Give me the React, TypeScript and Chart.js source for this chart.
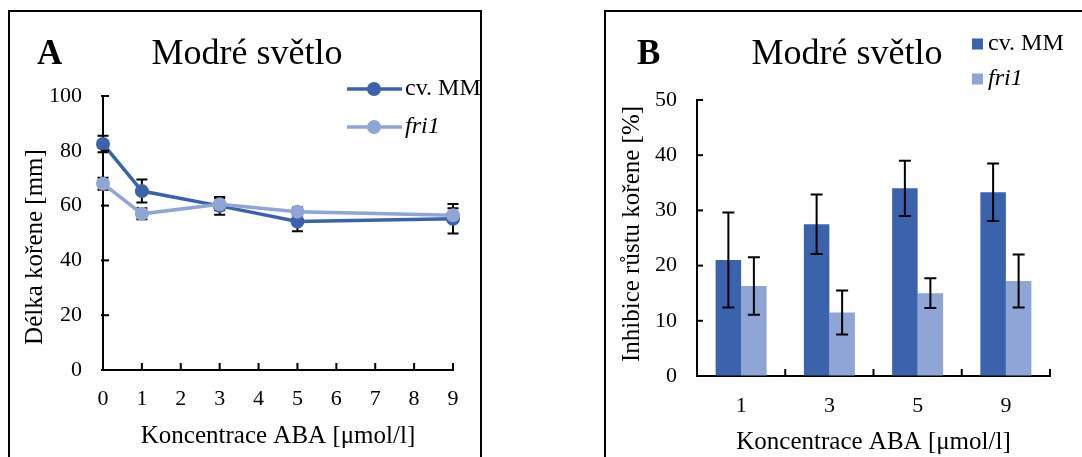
import React, { useEffect, useRef } from "react";
import { Chart, registerables } from "chart.js";

Chart.register(...registerables);

const FONT = "'Liberation Serif', 'Times New Roman', Times, serif";
const DARK = "#3B63AD";
const LIGHT = "#8FA5D6";
const INK = "#000000";

// ---------- Panel A data (line chart) ----------
const panelATitle = "Modré světlo";
const panelALetter = "A";
const concentrationsA = [0, 1, 3, 5, 9];
const mmLength = [82.5, 65.3, 59.9, 54.2, 55.2];
const mmLengthErr = [3.0, 4.2, 3.2, 3.6, 5.4];
const fri1Length = [68.0, 57.0, 60.5, 57.8, 56.5];
const fri1LengthErr = [2.2, 2.0, 2.2, 1.5, 2.5];
const xTitleA = "Koncentrace ABA [μmol/l]";
const yTitleA = "Délka kořene [mm]";

// ---------- Panel B data (bar chart) ----------
const panelBTitle = "Modré světlo";
const panelBLetter = "B";
const categoriesB = ["1", "3", "5", "9"];
const mmInhibition = [21.0, 27.5, 34.0, 33.3];
const mmInhibitionErr = [8.6, 5.4, 5.0, 5.2];
const fri1Inhibition = [16.3, 11.5, 15.0, 17.2];
const fri1InhibitionErr = [5.2, 4.0, 2.7, 4.8];
const xTitleB = "Koncentrace ABA [μmol/l]";
const yTitleB = "Inhibice růstu kořene [%]";

const seriesNames = ["cv. MM", "fri1"];

function valueOf(v: any): number {
  return typeof v === "object" && v !== null ? v.y : v;
}

function makeErrorBars(stage: string, capHalf: number, width: number) {
  return {
    id: "errorBars_" + stage,
    [stage]: (chart: any) => {
      const ctx = chart.ctx;
      const yScale = chart.scales.y;
      ctx.save();
      ctx.strokeStyle = INK;
      ctx.lineWidth = width;
      chart.data.datasets.forEach((ds: any, di: number) => {
        const meta = chart.getDatasetMeta(di);
        const errs: number[] = ds.errors || [];
        meta.data.forEach((el: any, i: number) => {
          const v = valueOf(ds.data[i]);
          const e = errs[i] || 0;
          const x = el.x;
          const yT = yScale.getPixelForValue(v + e);
          const yB = yScale.getPixelForValue(v - e);
          ctx.beginPath();
          ctx.moveTo(x, yT);
          ctx.lineTo(x, yB);
          ctx.moveTo(x - capHalf, yT);
          ctx.lineTo(x + capHalf, yT);
          ctx.moveTo(x - capHalf, yB);
          ctx.lineTo(x + capHalf, yB);
          ctx.stroke();
        });
      });
      ctx.restore();
    },
  };
}

function text(
  ctx: CanvasRenderingContext2D,
  s: string,
  x: number,
  y: number,
  font: string,
  align: CanvasTextAlign = "left",
  rotate = 0
) {
  ctx.save();
  ctx.fillStyle = INK;
  ctx.font = font;
  ctx.textAlign = align;
  ctx.textBaseline = "middle";
  ctx.translate(x, y);
  if (rotate) ctx.rotate(rotate);
  ctx.fillText(s, 0, 0);
  ctx.restore();
}

const decorA = {
  id: "decorA",
  afterDraw: (chart: any) => {
    const ctx = chart.ctx as CanvasRenderingContext2D;
    const area = chart.chartArea;
    ctx.save();
    ctx.strokeStyle = INK;
    ctx.lineWidth = 2;
    ctx.strokeRect(9, 11, 472, 520);
    const xs = chart.scales.x;
    xs.ticks.forEach((t: any) => {
      const px = xs.getPixelForValue(t.value);
      ctx.beginPath();
      ctx.moveTo(px, area.bottom);
      ctx.lineTo(px, area.bottom - 7);
      ctx.stroke();
    });
    const ys = chart.scales.y;
    ys.ticks.forEach((t: any) => {
      const py = ys.getPixelForValue(t.value);
      ctx.beginPath();
      ctx.moveTo(area.left - 2, py);
      ctx.lineTo(area.left + 6, py);
      ctx.stroke();
    });
    ctx.restore();

    text(ctx, panelALetter, 37, 55, `bold 35px ${FONT}`);
    text(ctx, panelATitle, 247, 55, `36px ${FONT}`, "center");
    text(ctx, xTitleA, (area.left + area.right) / 2, 436, `25px ${FONT}`, "center");
    text(ctx, yTitleA, 35, 247, `25px ${FONT}`, "center", -Math.PI / 2);

    const colors = [DARK, LIGHT];
    const ys2 = [89, 127];
    colors.forEach((c, i) => {
      ctx.save();
      ctx.strokeStyle = c;
      ctx.lineWidth = 3.5;
      ctx.beginPath();
      ctx.moveTo(347, ys2[i]);
      ctx.lineTo(402, ys2[i]);
      ctx.stroke();
      ctx.fillStyle = c;
      ctx.beginPath();
      ctx.arc(374, ys2[i], 7, 0, Math.PI * 2);
      ctx.fill();
      ctx.restore();
      text(ctx, seriesNames[i], 405, ys2[i], `${i === 1 ? "italic " : ""}24px ${FONT}`);
    });
  },
};

const decorB = {
  id: "decorB",
  afterDraw: (chart: any) => {
    const ctx = chart.ctx as CanvasRenderingContext2D;
    const area = chart.chartArea;
    ctx.save();
    ctx.strokeStyle = INK;
    ctx.lineWidth = 2;
    ctx.strokeRect(64, 11, 600, 520);
    const n = chart.data.labels.length;
    const step = (area.right - area.left) / n;
    for (let i = 0; i <= n; i++) {
      const px = area.left + i * step;
      ctx.beginPath();
      ctx.moveTo(px, area.bottom);
      ctx.lineTo(px, area.bottom - 7);
      ctx.stroke();
    }
    const ys = chart.scales.y;
    ys.ticks.forEach((t: any) => {
      const py = ys.getPixelForValue(t.value);
      ctx.beginPath();
      ctx.moveTo(area.left, py);
      ctx.lineTo(area.left + 6, py);
      ctx.stroke();
    });
    ctx.restore();

    text(ctx, panelBLetter, 96, 55, `bold 35px ${FONT}`);
    text(ctx, panelBTitle, 306, 55, `36px ${FONT}`, "center");
    text(ctx, xTitleB, (area.left + area.right) / 2, 442, `25px ${FONT}`, "center");
    text(ctx, yTitleB, 91, 234, `25px ${FONT}`, "center", -Math.PI / 2);

    const colors = [DARK, LIGHT];
    const ys2 = [44, 79];
    colors.forEach((c, i) => {
      ctx.save();
      ctx.fillStyle = c;
      ctx.fillRect(431, ys2[i] - 5.5, 11, 11);
      ctx.restore();
      text(ctx, seriesNames[i], 447, ys2[i], `${i === 1 ? "italic " : ""}24px ${FONT}`);
    });
  },
};

const tickFont = { family: FONT, size: 22 };

export default function App() {
  const refA = useRef<HTMLCanvasElement>(null);
  const refB = useRef<HTMLCanvasElement>(null);

  useEffect(() => {
    const chartA = new Chart(refA.current!, {
      type: "line",
      data: {
        datasets: [
          {
            label: seriesNames[0],
            data: concentrationsA.map((x, i) => ({ x, y: mmLength[i] })),
            errors: mmLengthErr,
            borderColor: DARK,
            backgroundColor: DARK,
            borderWidth: 3.5,
            pointRadius: 7,
            pointBorderWidth: 0,
            pointBackgroundColor: DARK,
            clip: false,
            order: 1,
          } as any,
          {
            label: seriesNames[1],
            data: concentrationsA.map((x, i) => ({ x, y: fri1Length[i] })),
            errors: fri1LengthErr,
            borderColor: LIGHT,
            backgroundColor: LIGHT,
            borderWidth: 3.5,
            pointRadius: 7,
            pointBorderWidth: 0,
            pointBackgroundColor: LIGHT,
            clip: false,
            order: 0,
          } as any,
        ],
      },
      options: {
        responsive: false,
        animation: false,
        layout: { padding: { top: 96, right: 88, left: 0, bottom: 0 } },
        plugins: { legend: { display: false }, tooltip: { enabled: false }, title: { display: false } },
        scales: {
          x: {
            type: "linear",
            min: 0,
            max: 9,
            ticks: { stepSize: 1, color: INK, font: tickFont, padding: 16, maxRotation: 0 },
            grid: { display: true, drawOnChartArea: false, drawTicks: false },
            border: { display: true, color: INK, width: 2 },
            afterFit: (s: any) => {
              s.height = 87;
            },
          },
          y: {
            min: 0,
            max: 100,
            ticks: { stepSize: 20, color: INK, font: tickFont, padding: 21 },
            grid: { display: true, drawOnChartArea: false, drawTicks: false },
            border: { display: true, color: INK, width: 2 },
            afterFit: (s: any) => {
              s.width = 103;
            },
          },
        },
      } as any,
      plugins: [makeErrorBars("beforeDatasetsDraw", 5.5, 2), decorA],
    });

    const chartB = new Chart(refB.current!, {
      type: "bar",
      data: {
        labels: categoriesB,
        datasets: [
          {
            label: seriesNames[0],
            data: mmInhibition,
            errors: mmInhibitionErr,
            backgroundColor: DARK,
            borderWidth: 0,
            categoryPercentage: 0.578,
            barPercentage: 1,
          } as any,
          {
            label: seriesNames[1],
            data: fri1Inhibition,
            errors: fri1InhibitionErr,
            backgroundColor: LIGHT,
            borderWidth: 0,
            categoryPercentage: 0.578,
            barPercentage: 1,
          } as any,
        ],
      },
      options: {
        responsive: false,
        animation: false,
        layout: { padding: { top: 100, right: 32, left: 0, bottom: 0 } },
        plugins: { legend: { display: false }, tooltip: { enabled: false }, title: { display: false } },
        scales: {
          x: {
            ticks: { color: INK, font: tickFont, padding: 17, maxRotation: 0 },
            grid: { display: true, drawOnChartArea: false, drawTicks: false },
            border: { display: true, color: INK, width: 2 },
            afterFit: (s: any) => {
              s.height = 81;
            },
          },
          y: {
            min: 0,
            max: 50,
            ticks: { stepSize: 10, color: INK, font: tickFont, padding: 20 },
            grid: { display: true, drawOnChartArea: false, drawTicks: false },
            border: { display: true, color: INK, width: 2 },
            afterFit: (s: any) => {
              s.width = 156;
            },
          },
        },
      } as any,
      plugins: [makeErrorBars("afterDatasetsDraw", 6, 2), decorB],
    });

    return () => {
      chartA.destroy();
      chartB.destroy();
    };
  }, []);

  return (
    <div
      style={{
        position: "fixed",
        left: 0,
        top: 0,
        width: 1082,
        height: 457,
        background: "#fff",
        overflow: "hidden",
      }}
    >
      <canvas
        ref={refA}
        width={541}
        height={457}
        style={{ position: "absolute", left: 0, top: 0, width: 541, height: 457 }}
      />
      <canvas
        ref={refB}
        width={541}
        height={457}
        style={{ position: "absolute", left: 541, top: 0, width: 541, height: 457 }}
      />
    </div>
  );
}
